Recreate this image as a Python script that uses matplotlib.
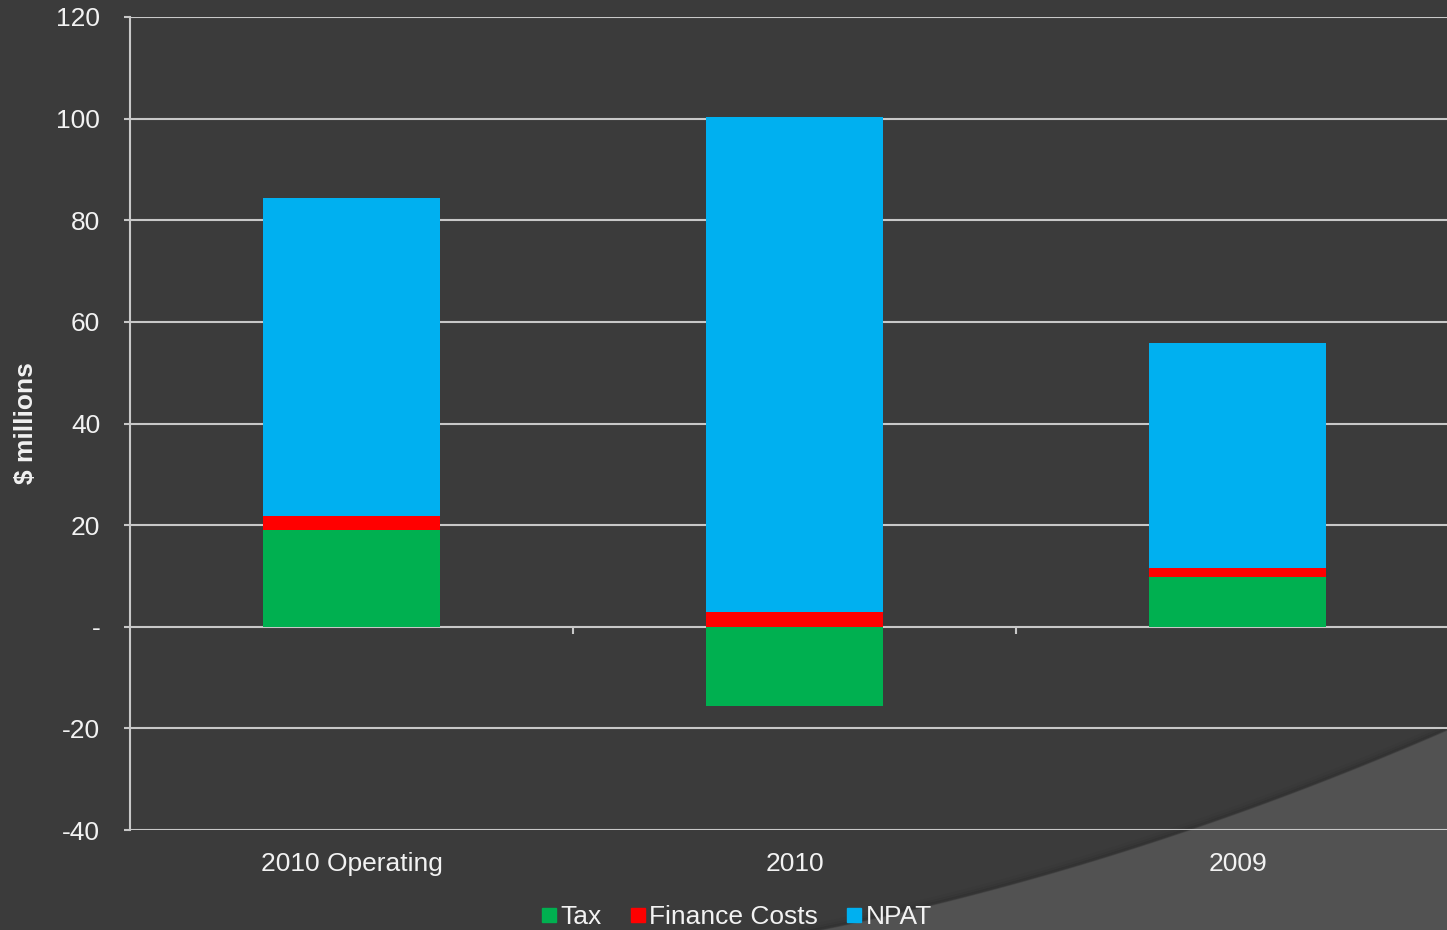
import numpy as np
import matplotlib
matplotlib.use('Agg')
import matplotlib.pyplot as plt
from matplotlib.lines import Line2D
from matplotlib.patches import Polygon
from matplotlib.ticker import FixedLocator, FixedFormatter

# EBIT build-up, $ millions
categories = ['2010 Operating', '2010', '2009']
tax = [19.0, -15.5, 9.8]
finance_costs = [2.7, 3.0, 1.8]
npat = [62.6, 97.3, 44.3]

series_names = ['Tax', 'Finance Costs', 'NPAT']
series_colors = ['#00b050', '#ff0000', '#00b0f0']

y_ticks = [-40, -20, 0, 20, 40, 60, 80, 100, 120]
y_tick_labels = ['-40', '-20', '-', '20', '40', '60', '80', '100', '120']

BG = '#3b3b3b'
FG = '#f2f2f2'
GRID = '#c8c8c8'

plt.rcParams['font.family'] = ['Liberation Sans', 'DejaVu Sans']

fig = plt.figure(figsize=(14.47, 9.3), dpi=100, facecolor=BG)
W, H = 1447, 930

# lighter swoosh in the lower right corner of the slide (pixel coords)
coef = np.polyfit([820, 1183, 1447], [930, 832, 730], 2)
sx = np.linspace(800, 1447, 80)
sy = np.polyval(coef, sx)
edge = [(px / W, 1 - py / H) for px, py in zip(sx, sy)]
fig.patches.append(Polygon(edge + [(1.0, 0.0), (800 / W, 0.0)], closed=True,
                           transform=fig.transFigure, facecolor='#525252',
                           edgecolor='none', zorder=-2))
# soft shadow along the swoosh edge
for off, a in [(1, 0.35), (3, 0.2), (6, 0.1)]:
    fig.lines.append(Line2D(sx / W, 1 - (sy - off) / H, transform=fig.transFigure,
                            color='#2a2a2a', lw=2.5, alpha=a, zorder=-1))

ax = fig.add_axes([130 / W, 100 / H, 1329 / W, 813 / H])
ax.set_facecolor('none')

x = np.arange(len(categories))
pos_base = np.zeros(len(categories))
neg_base = np.zeros(len(categories))
for vals, name, col in zip([tax, finance_costs, npat], series_names, series_colors):
    vals = np.asarray(vals, dtype=float)
    bottom = np.where(vals >= 0, pos_base, neg_base)
    ax.bar(x, vals, width=0.4, bottom=bottom, color=col, label=name, zorder=3)
    pos_base += np.clip(vals, 0, None)
    neg_base += np.clip(vals, None, 0)

ax.set_xlim(-0.5, len(categories) - 0.5)
ax.set_ylim(-40, 120)
ax.yaxis.set_major_locator(FixedLocator(y_ticks))
ax.yaxis.set_major_formatter(FixedFormatter(y_tick_labels))
ax.grid(axis='y', color=GRID, lw=1.5, zorder=1)
ax.set_axisbelow(True)

for side in ['top', 'right', 'bottom']:
    ax.spines[side].set_visible(False)
ax.spines['left'].set_color(GRID)
ax.spines['left'].set_linewidth(1.5)

ax.tick_params(axis='y', colors=GRID, labelcolor=FG, labelsize=19,
               length=4.5, width=1.5, pad=17)
ax.set_xticks(x)
ax.set_xticklabels(categories)
ax.tick_params(axis='x', length=0, labelcolor=FG, labelsize=19, pad=16)

# category separators sit on the zero line
zero_frac = (0 - ax.get_ylim()[0]) / (ax.get_ylim()[1] - ax.get_ylim()[0])
sep = ax.secondary_xaxis(zero_frac)
sep.set_xticks(x[:-1] + 0.5)
sep.set_xticklabels([])
sep.tick_params(axis='x', direction='out', length=5, width=1.5, colors=GRID)
sep.spines['bottom'].set_visible(False)

ax.set_ylabel('$ millions', color=FG, fontsize=19, fontweight='bold')
ax.yaxis.set_label_coords(-0.069, 0.5)

handles = [Line2D([], [], ls='none', marker='s', markersize=9.5, color=c)
           for c in series_colors]
fig.legend(handles, series_names, loc='center', ncol=3, frameon=False,
           bbox_to_anchor=(737 / W, 1 - 917 / H), fontsize=19, labelcolor=FG,
           handlelength=0.55, handletextpad=0.15, columnspacing=1.1,
           borderpad=0, borderaxespad=0)

fig.savefig('out.png', dpi=100, facecolor=BG)
